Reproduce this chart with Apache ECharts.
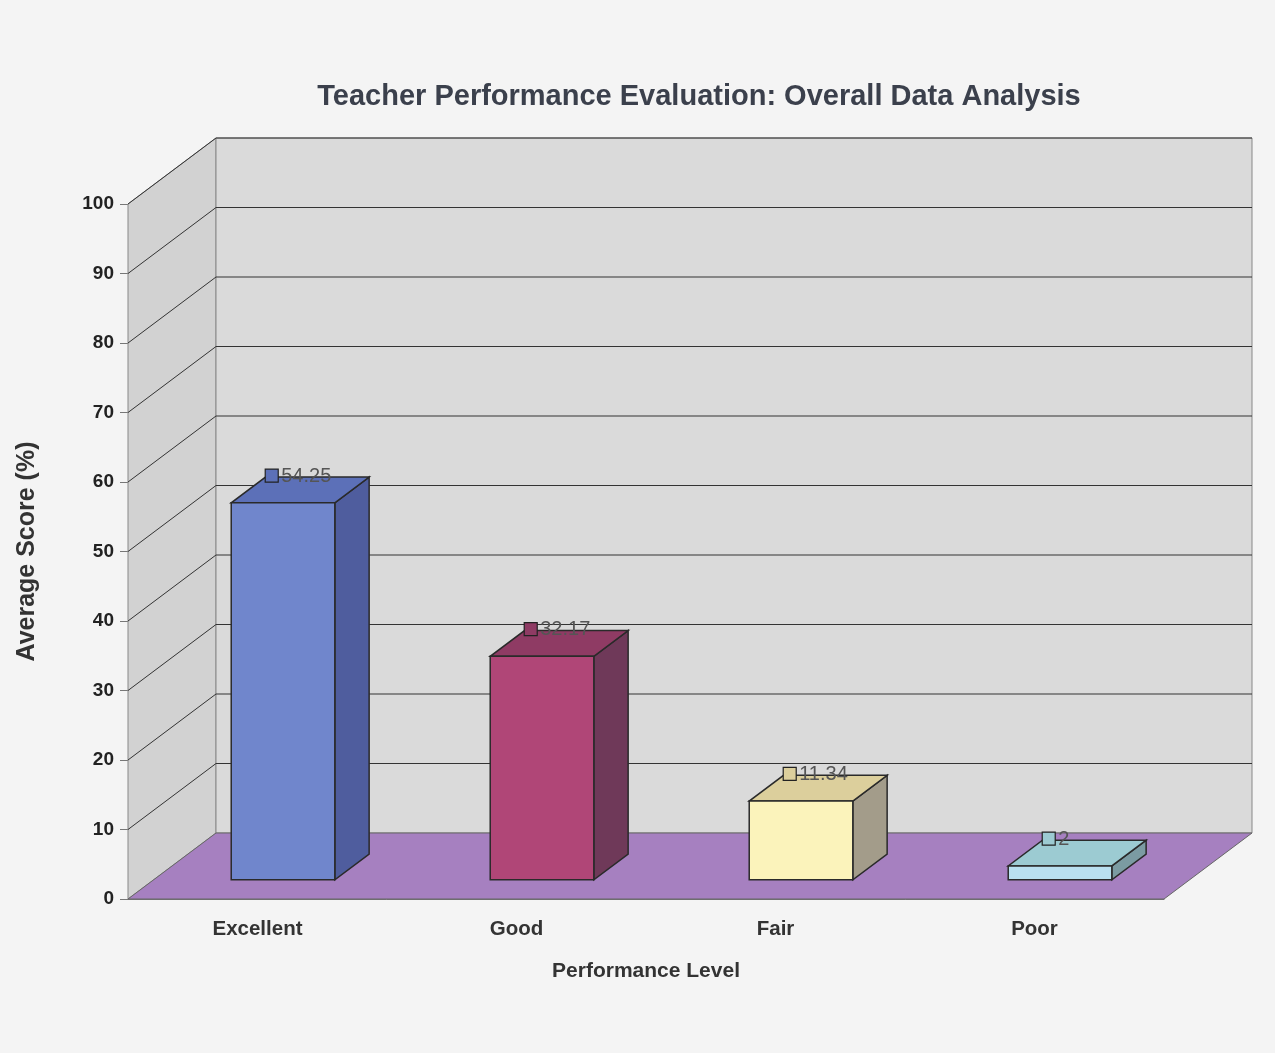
<!DOCTYPE html>
<html>
<head>
<meta charset="utf-8">
<script src="https://cdn.jsdelivr.net/npm/echarts@6/dist/echarts.min.js"></script>
<style>html,body{margin:0;background:#f4f4f4;}#chart{width:1275px;height:1053px;}</style>
</head>
<body>
<div id="chart"></div>
<script>
// Datos del gráfico
const categories = ['Excellent', 'Good', 'Fair', 'Poor'];
const scores = [54.25, 32.17, 11.34, 2];
const yTicks = [0, 10, 20, 30, 40, 50, 60, 70, 80, 90, 100];

// Colores por barra: frente, lado, arriba
const barColors = [
    ['#7086cc', '#4f5d9e', '#5c70b8'],
    ['#b04677', '#6f3959', '#8f3b64'],
    ['#fbf3bb', '#a39c8a', '#dccf9c'],
    ['#b9e0f0', '#7b9ba2', '#9ccbd2']
];

const DX = 88, DY = -66; // profundidad de la pared

function frameItem(params, api) {
    const cs = params.coordSys;
    const x0 = cs.x, x1 = cs.x + cs.width, yb = cs.y + cs.height, yt = cs.y;
    const children = [
        { type: 'polygon', shape: { points: [[x0, yb], [x0, yt], [x0 + DX, yt + DY], [x0 + DX, yb + DY]] }, style: { fill: '#d2d2d2', stroke: '#888', lineWidth: 1 } },
        { type: 'polygon', shape: { points: [[x0 + DX, yt + DY], [x1 + DX, yt + DY], [x1 + DX, yb + DY], [x0 + DX, yb + DY]] }, style: { fill: '#dadada', stroke: '#888', lineWidth: 1 } }
    ];
    yTicks.forEach(v => {
        const y = api.coord([0, v])[1];
        if (v > 0) {
            children.push({ type: 'polyline', shape: { points: [[x0, y], [x0 + DX, y + DY], [x1 + DX, y + DY]] }, style: { stroke: '#333', lineWidth: 1, fill: null } });
        }
    });
    children.push({ type: 'polygon', shape: { points: [[x0, yb], [x1, yb], [x1 + DX, yb + DY], [x0 + DX, yb + DY]] }, style: { fill: '#a680c0', stroke: '#666', lineWidth: 1 } });
    return { type: 'group', children: children };
}

function barItem(params, api) {
    const i = api.value(0);
    const v = api.value(1);
    const band = api.size([1, 0])[0];
    const c0 = api.coord([i, 0]);
    const cv = api.coord([i, v]);
    const w = band * 0.4;
    const ox = DX * 0.29, oy = DY * 0.29;
    const dx = DX * 0.39, dy = DY * 0.39;
    const fx = c0[0] + ox - w / 2, fb = c0[1] + oy, ft = cv[1] + oy;
    const col = barColors[i];
    const st = { stroke: '#2a2a2a', lineWidth: 1.5 };
    return {
        type: 'group',
        children: [
            { type: 'polygon', shape: { points: [[fx + w, fb], [fx + w, ft], [fx + w + dx, ft + dy], [fx + w + dx, fb + dy]] }, style: Object.assign({ fill: col[1] }, st) },
            { type: 'polygon', shape: { points: [[fx, ft], [fx + w, ft], [fx + w + dx, ft + dy], [fx + dx, ft + dy]] }, style: Object.assign({ fill: col[2] }, st) },
            { type: 'rect', shape: { x: fx, y: ft, width: w, height: fb - ft }, style: Object.assign({ fill: col[0] }, st) },
            { type: 'rect', shape: { x: fx + 34, y: ft + dy - 8, width: 13, height: 13 }, style: { fill: col[2], stroke: '#222', lineWidth: 1.2 } },
            { type: 'text', x: fx + 50, y: ft + dy - 1, style: { text: String(v), fill: '#555', fontSize: 20, fontFamily: 'Liberation Sans', verticalAlign: 'middle' } }
        ]
    };
}

const option = {
    backgroundColor: '#f4f4f4',
    title: {
        text: 'Teacher Performance Evaluation: Overall Data Analysis',
        left: 694, top: 77, textAlign: 'center',
        textStyle: { fontSize: 29, fontWeight: 'bold', color: '#3b404c', fontFamily: 'Liberation Sans' }
    },
    grid: { left: 128, right: 111, top: 204, bottom: 154 },
    xAxis: {
        type: 'category',
        data: categories,
        name: 'Performance Level',
        nameLocation: 'middle',
        nameGap: 62,
        nameTextStyle: { fontSize: 21, fontWeight: 'bold', color: '#333', fontFamily: 'Liberation Sans' },
        axisLine: { lineStyle: { color: '#777' } },
        axisTick: { lineStyle: { color: '#777' }, length: 10 },
        axisLabel: { fontSize: 20.5, fontWeight: 'bold', color: '#333', fontFamily: 'Liberation Sans', margin: 20 },
        splitLine: { show: false }
    },
    yAxis: {
        type: 'value',
        min: 0, max: 100, interval: 10,
        name: 'Average Score (%)',
        nameLocation: 'middle',
        nameGap: 88,
        nameTextStyle: { fontSize: 25, fontWeight: 'bold', color: '#333', fontFamily: 'Liberation Sans' },
        axisLine: { show: true, lineStyle: { color: '#777' } },
        axisTick: { show: true, length: 8, lineStyle: { color: '#777' } },
        axisLabel: { fontSize: 19, fontWeight: 'bold', color: '#222', fontFamily: 'Liberation Sans', margin: 14 },
        splitLine: { show: false }
    },
    series: [
        { type: 'custom', renderItem: frameItem, data: [[0, 0]], z: 1, silent: true, clip: false },
        { type: 'custom', renderItem: barItem, data: scores.map((s, i) => [i, s]), z: 2, clip: false }
    ]
};

const chart = echarts.init(document.getElementById('chart'));
chart.setOption(option);
</script>
</body>
</html>
